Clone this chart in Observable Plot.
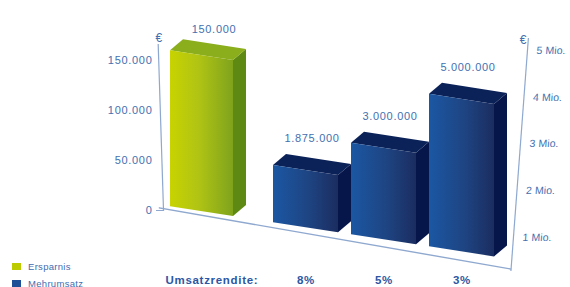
<!DOCTYPE html>
<html><head><meta charset="utf-8">
<script src="https://cdn.jsdelivr.net/npm/d3@7"></script>
<script src="https://cdn.jsdelivr.net/npm/@observablehq/plot@0.6"></script>
<style>
body{margin:0;background:#fff;font-family:"Liberation Sans",Arial,sans-serif;}
#chart{position:relative;width:570px;height:287px;overflow:hidden;background:#fff;}
#chart svg{position:absolute;left:0;top:0;}
.leg{position:absolute;left:12px;height:10px;font-size:9.5px;letter-spacing:0.3px;color:#3f6db2;display:flex;align-items:center;white-space:nowrap;}
.leg .sw{width:9px;height:7px;display:inline-block;margin-right:7px;}
</style></head><body><div id="chart"></div>
<script>
// ---- data ----
const savingsCategory = ["Ersparnis"];
const savingsValues = [150000];            // €
const marginLabels = ["8%", "5%", "3%"];   // Umsatzrendite
const revenueValues = [1.875, 3, 5];       // Mio. € Mehrumsatz
const leftTicks = [0, 50000, 100000, 150000];
const rightTicks = [1, 2, 3, 4, 5];
const legendLabels = ["Ersparnis", "Mehrumsatz"];
const xTitle = "Umsatzrendite:";
const currency = "€";

const savingsTable = savingsCategory.map((c, i) => ({cat: c, value: savingsValues[i]}));
const revenueTable = marginLabels.map((r, i) => ({rate: r, value: revenueValues[i]}));

// ---- style ----
const W = 570, H = 287;
const K = 0.155, OX = 201;                 // perspective shear
const SKEW = `matrix(1,${K},0,1,0,${-K * OX})`;
const DX = 13, DY = -13;                   // bar depth
const TEXT = "#4470b0", BOLD = "#2b57a4", AXIS = "#8ea8cf";
const GREEN = {front: [[0, "#c8d300"], [0.45, "#b0c414"], [1, "#7fa31c"]], top: "#8aae1c", side: "#5e8912"};
const BLUE = {front: [[0, "#1b57a3"], [0.55, "#1e4482"], [1, "#1b2d60"]], top: "#0b2259", side: "#07164a"};
const legendColors = ["#bccb00", "#1d4f96"];
const STYLE = {background: "transparent", overflow: "visible", fontFamily: "Liberation Sans, Arial, sans-serif",
  fontSize: "11px", letterSpacing: "0.7px", color: TEXT};

const de = d3.formatLocale({decimal: ",", thousands: ".", grouping: [3], currency: ["", "€"]}).format(",d");

let gid = 0;
function bars3d(data, catKey, valKey, col) {
  return (index, scales) => {
    const x = scales.x, y = scales.y, bw = x.bandwidth();
    const g = d3.create("svg:g").attr("transform", SKEW);
    const id = "barGrad" + (gid++);
    const grad = g.append("defs").append("linearGradient").attr("id", id)
      .attr("x1", "0").attr("x2", "1").attr("y1", "0").attr("y2", "0");
    for (const [o, c] of col.front) grad.append("stop").attr("offset", o).attr("stop-color", c);
    for (const i of index) {
      const d = data[i];
      const x0 = x(d[catKey]), x1 = x0 + bw, yt = y(d[valKey]), yb = y(0);
      g.append("polygon").attr("points", `${x1},${yb} ${x1},${yt} ${x1 + DX},${yt + DY} ${x1 + DX},${yb + DY}`).attr("fill", col.side);
      g.append("polygon").attr("points", `${x0},${yt} ${x0 + DX},${yt + DY} ${x1 + DX},${yt + DY} ${x1},${yt}`).attr("fill", col.top);
      g.append("rect").attr("x", x0).attr("y", yt).attr("width", bw).attr("height", yb - yt).attr("fill", `url(#${id})`);
    }
    return g.node();
  };
}
function skewText(index, scales, values, dims, context, next) {
  const g = next(index, scales, values, dims, context);
  g.setAttribute("transform", SKEW + " " + (g.getAttribute("transform") || ""));
  g.querySelectorAll("text").forEach(t =>
    t.setAttribute("transform", (t.getAttribute("transform") || "") + ` matrix(1,${-K},0,1,0,0)`));
  return g;
}
function withTransform(tr) {
  return (index, scales, values, dims, context, next) => {
    const g = next(index, scales, values, dims, context);
    g.setAttribute("transform", tr + " " + (g.getAttribute("transform") || ""));
    return g;
  };
}

// left axis + floor line
const plotL = Plot.plot({
  width: W, height: H, marginLeft: 163, marginRight: W - 510, marginTop: 60, marginBottom: H - 210,
  y: {domain: [0, 150000], axis: null},
  style: STYLE,
  marks: [
    Plot.frame({anchor: "left", insetTop: -16, stroke: AXIS, strokeWidth: 1.2,
      render: withTransform(`matrix(1,0,0.032,1,${-0.032 * 210},0)`)}),
    Plot.frame({anchor: "bottom", insetLeft: -4, stroke: AXIS, strokeWidth: 1.4,
      render: withTransform(`matrix(1,0.174,0,1,0,${-0.174 * 163 - 2})`)}),
    Plot.axisY(leftTicks, {anchor: "left", tickSize: 0, tickPadding: 11, tickFormat: de, fill: TEXT}),
    Plot.axisY([0], {anchor: "left", tickSize: 7, tickFormat: () => "", stroke: AXIS}),
    Plot.text([currency], {frameAnchor: "top-left", dx: -8, dy: -27, fill: TEXT, fontSize: 12})
  ]
});

// right axis
const plotR = Plot.plot({
  width: W, height: H, marginLeft: 300, marginRight: W - 527, marginTop: 50, marginBottom: 50,
  y: {domain: [1, 5], axis: null},
  style: {...STYLE, letterSpacing: "0.1px"},
  marks: [
    Plot.frame({anchor: "right", insetTop: -12, insetBottom: -33, stroke: AXIS, strokeWidth: 1.2,
      render: withTransform(`matrix(1,0,-0.075,1,${0.075 * 50},0)`)}),
    Plot.axisY(rightTicks, {anchor: "right", tickSize: 0, tickPadding: 9, tickFormat: d => `${d} Mio.`, fill: TEXT, fontSize: 10.5,
      render: withTransform(`matrix(1,0,-0.075,1,${0.075 * 50},0)`)}),
    Plot.text([currency], {frameAnchor: "top-right", dx: -1, dy: -15, fill: TEXT, fontSize: 12})
  ]
});

// savings bar
const plotA = Plot.plot({
  width: W, height: H, marginLeft: 162, marginRight: W - 240, marginTop: 55, marginBottom: H - 211,
  x: {domain: savingsCategory, padding: 0.1, axis: null},
  y: {domain: [0, 150000], axis: null},
  style: STYLE,
  marks: [
    Plot.barY(savingsTable, {x: "cat", y: "value", render: bars3d(savingsTable, "cat", "value", GREEN)}),
    Plot.text(savingsTable, {x: "cat", y: "value", text: d => de(d.value), dx: 12, dy: -28, fill: TEXT, render: skewText}),
    Plot.text([xTitle], {frameAnchor: "bottom-left", dx: 3, dy: 72, textAnchor: "start", fontWeight: "bold", fill: BOLD, fontSize: 11.5})
  ]
});

// revenue bars
const plotB = Plot.plot({
  width: W, height: H, marginLeft: 259, marginRight: W - 509, marginTop: 58.5, marginBottom: H - 211,
  x: {domain: marginLabels, padding: 0.165, axis: null},
  y: {domain: [0, 5], axis: null},
  style: STYLE,
  marks: [
    Plot.barY(revenueTable, {x: "rate", y: "value", render: bars3d(revenueTable, "rate", "value", BLUE)}),
    Plot.text(revenueTable, {x: "rate", y: "value", text: d => de(Math.round(d.value * 1e6)), dx: 6, dy: -33, fill: TEXT, render: skewText}),
    Plot.text(revenueTable, {x: "rate", text: "rate", frameAnchor: "bottom", dy: 72, fontWeight: "bold", fill: BOLD, fontSize: 11.5})
  ]
});

const chart = document.getElementById("chart");
[plotL, plotR, plotA, plotB].forEach(p => chart.appendChild(p));
legendLabels.forEach((l, i) => {
  const div = document.createElement("div");
  div.className = "leg";
  div.style.top = (i === 0 ? 261 : 278) + "px";
  div.innerHTML = `<span class="sw" style="background:${legendColors[i]}"></span>`;
  div.appendChild(document.createTextNode(l));
  chart.appendChild(div);
});
</script>
</body></html>
